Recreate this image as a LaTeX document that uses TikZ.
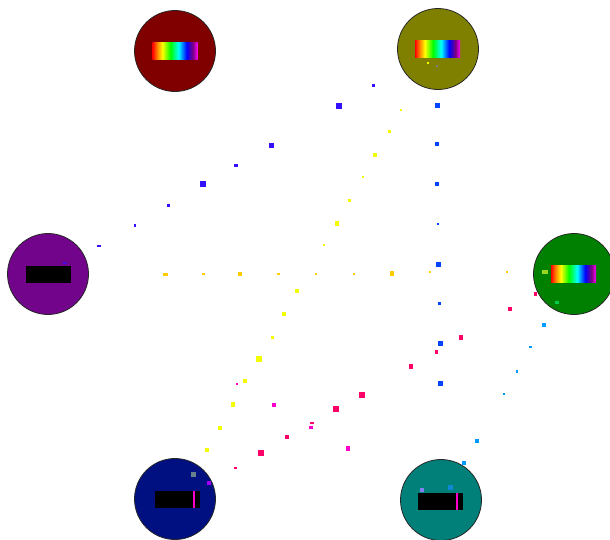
\documentclass[tikz,border=0pt]{standalone}
\usetikzlibrary{calc}
\pgfdeclarehorizontalshading{rainbowshade}{100bp}{color(0bp)=(red); color(25bp)=(red); color(30bp)=(orange); color(36bp)=(yellow); color(45bp)=(green); color(54bp)=(cyan); color(63bp)=(blue); color(70bp)=(violet); color(75bp)=(magenta); color(100bp)=(magenta)}
\definecolor{cRed}{HTML}{800000}
\definecolor{cOlive}{HTML}{808000}
\definecolor{cPurple}{HTML}{72048C}
\definecolor{cGreen}{HTML}{008000}
\definecolor{cNavy}{HTML}{001080}
\definecolor{cTeal}{HTML}{008078}
\definecolor{pIndigo}{HTML}{3311FF}
\definecolor{pBlue}{HTML}{0044FF}
\definecolor{pYellow}{HTML}{F2FF00}
\definecolor{pGold}{HTML}{FFCC00}
\definecolor{pPink}{HTML}{FF0066}
\definecolor{pMagenta}{HTML}{FF00CC}
\definecolor{pCyan}{HTML}{0099FF}
\definecolor{violet}{HTML}{8800FF}
\tikzset{
  host/.style={circle, draw=black!85, line width=0.8pt, minimum size=81pt, inner sep=0pt},
  rainbowbar/.style={rectangle, shading=rainbowshade, minimum width=45pt, minimum height=17pt, inner sep=0pt},
  blackbar/.style={rectangle, fill=black, minimum width=45pt, minimum height=17pt, inner sep=0pt},
}
\newcommand{\pkt}[5]{\fill[#1] ($(#2,#3)+(-#4/2,-#5/2)$) rectangle ++(#4,#5);}
\begin{document}
\begin{tikzpicture}[x=1pt,y=-1pt]
\useasboundingbox (0,0) rectangle (610,539);
% hosts
\node[host, fill=cRed]    (hA) at (175,51)  {};
\node[host, fill=cOlive]  (hB) at (438,49)  {};
\node[host, fill=cPurple] (hC) at (48,274)  {};
\node[host, fill=cGreen]  (hD) at (574,274) {};
\node[host, fill=cNavy]   (hE) at (175,499) {};
\node[host, fill=cTeal]   (hF) at (441,500) {};
\node[rainbowbar] (bA) at (hA) {};
\node[rainbowbar] (bB) at (437.5,49) {};
\node[blackbar]   (bC) at (48.5,274) {};
\node[rainbowbar] (bD) at (573.5,274) {};
\node[blackbar]   (bE) at (177,499.5) {};
\node[blackbar]   (bF) at (440.5,501.5) {};
\fill[pMagenta] (193,491) rectangle (195,508);
\fill[pMagenta] (456,493) rectangle (458,510);
% packets purple -> olive
\pkt{pIndigo}{373}{85}{3}{3}
\pkt{pIndigo}{339}{106}{6}{6}
\pkt{pIndigo}{271}{145}{5}{5}
\pkt{pIndigo}{236}{165}{4}{3}
\pkt{pIndigo}{203}{184}{6}{6}
\pkt{pIndigo}{168}{205}{3}{3}
\pkt{pIndigo}{135}{225}{2}{3}
\pkt{pIndigo}{99}{246}{4}{2}
% olive -> teal
\pkt{pBlue}{437}{105}{5}{5}
\pkt{pBlue}{437}{144}{4}{4}
\pkt{pBlue}{437}{184}{4}{4}
\pkt{pBlue}{438}{224}{2}{2}
\pkt{pBlue}{438}{264}{5}{5}
\pkt{pBlue}{439}{303}{3}{3}
\pkt{pBlue}{440}{343}{5}{5}
\pkt{pBlue}{440}{383}{5}{5}
% olive -> navy
\pkt{pYellow}{401}{110}{2}{2}
\pkt{pYellow}{389}{131}{3}{3}
\pkt{pYellow}{375}{155}{4}{4}
\pkt{pYellow}{363}{177}{2}{2}
\pkt{pYellow}{349}{200}{3}{3}
\pkt{pYellow}{337}{223}{4}{5}
\pkt{pYellow}{324}{245}{2}{2}
\pkt{pYellow}{297}{291}{4}{4}
\pkt{pYellow}{284}{314}{4}{4}
\pkt{pYellow}{272}{337}{3}{3}
\pkt{pYellow}{259}{359}{6}{6}
\pkt{pYellow}{245}{381}{4}{4}
\pkt{pYellow}{233}{404}{4}{5}
\pkt{pYellow}{220}{428}{4}{4}
\pkt{pYellow}{207}{450}{4}{4}
% purple -> green
\pkt{pGold}{165}{274}{5}{3}
\pkt{pGold}{203}{274}{3}{2}
\pkt{pGold}{240}{274}{4}{4}
\pkt{pGold}{278}{274}{3}{2}
\pkt{pGold}{316}{274}{2}{2}
\pkt{pGold}{354}{274}{2}{2}
\pkt{pGold}{392}{273}{4}{5}
\pkt{pGold}{430}{272}{2}{2}
\pkt{pGold}{507}{272}{2}{2}
% navy -> green
\pkt{pPink}{535}{294}{3}{4}
\pkt{pPink}{510}{309}{4}{4}
\pkt{pPink}{461}{337}{4}{5}
\pkt{pPink}{436}{352}{3}{4}
\pkt{pPink}{411}{366}{4}{5}
\pkt{pPink}{362}{395}{6}{6}
\pkt{pPink}{336}{409}{6}{6}
\pkt{pPink}{312}{423}{4}{2}
\pkt{pPink}{287}{437}{4}{4}
\pkt{pPink}{261}{453}{6}{6}
\pkt{pPink}{235}{468}{3}{2}
% purple -> teal
\pkt{pMagenta}{237}{384}{2}{2}
\pkt{pMagenta}{274}{405}{4}{4}
\pkt{pMagenta}{311}{427}{4}{3}
\pkt{pMagenta}{348}{448}{4}{5}
% green -> teal
\pkt{pCyan}{544}{325}{4}{4}
\pkt{pCyan}{530}{347}{3}{2}
\pkt{pCyan}{517}{371}{2}{3}
\pkt{pCyan}{504}{394}{2}{2}
\pkt{pCyan}{477}{441}{4}{4}
\pkt{pCyan}{464}{463}{4}{4}
% packets inside hosts
\pkt{pYellow}{428}{63}{2}{2}
\pkt{gray}{437}{66}{2}{2}
\pkt{pIndigo!70!cPurple}{65}{263}{4}{2}
\pkt{yellow!60!green}{545}{272}{6}{4}
\pkt{green!60!cyan!80!black}{557}{302}{4}{3}
\pkt{gray!60!cyan!70!black}{193}{474}{5}{5}
\pkt{violet!80!magenta}{209}{483}{4}{4}
\pkt{cyan!70!blue}{450}{487}{5}{5}
\pkt{blue!50!white!90!gray}{422}{490}{4}{4}
\end{tikzpicture}
\end{document}
